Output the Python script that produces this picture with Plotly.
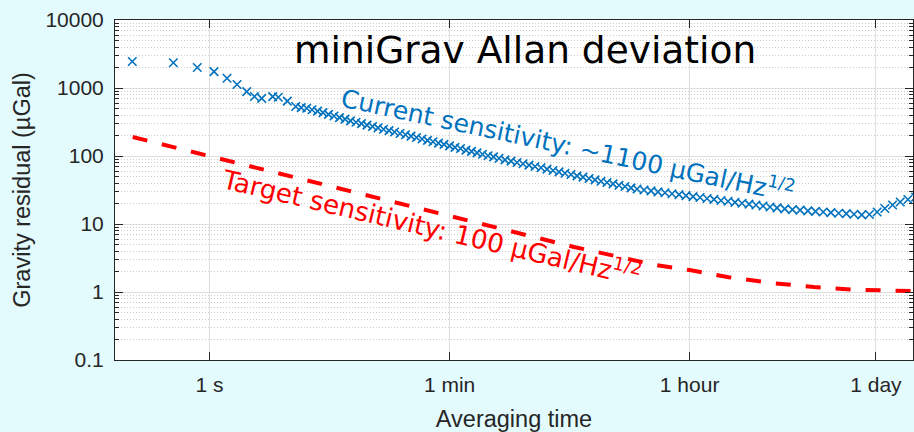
import plotly.graph_objects as go

# ---------------- data ----------------
tau_current = [0.268, 0.540, 0.812, 1.080, 1.348, 1.599, 1.887, 2.154, 2.436, 2.938,
               3.233, 3.770, 4.350, 4.778, 5.248, 5.744, 6.31, 6.93, 7.61, 8.36,
               9.18, 10.09, 11.08, 12.17, 13.36, 14.68, 16.12, 17.71, 19.45, 21.36,
               23.46, 25.77, 28.30, 31.09, 34.15, 37.51, 41.19, 45.25, 49.70, 54.58,
               59.95, 65.84, 72.33, 79.43, 87.25, 95.83, 105.2, 115.6, 127.0, 139.5,
               154.5, 171.1, 189.6, 210.0, 232.6, 257.7, 285.5, 316.2, 350.3, 388.1,
               429.9, 476.3, 527.6, 584.5, 647.5, 717.3, 794.3, 879.8, 974.7, 1080,
               1196, 1325, 1468, 1654, 1864, 2100, 2366, 2667, 3005, 3385,
               3815, 4299, 4844, 5458, 6150, 6929, 7808, 8799, 9915, 11170,
               12590, 14190, 15990, 18230, 20790, 23700, 27030, 30830, 35150, 40090,
               45710, 52120, 59430, 67780, 77300, 88150, 100500, 114700, 130700, 149100,
               170000]
sigma_current = [2450, 2350, 2000, 1740, 1390, 1126, 883, 750, 705, 745,
                 730, 640, 535, 515, 503, 478, 456, 435, 409, 387,
                 367, 348, 329, 313, 299, 285, 272, 259, 247, 236,
                 225, 214, 205, 196, 187, 178, 170, 162, 155, 148,
                 141, 134, 129, 122, 117, 111, 106, 101, 97, 92.5,
                 87.9, 84.1, 80.2, 76.8, 73.5, 70.1, 67.1, 64.0, 61.2, 58.4,
                 55.8, 53.4, 50.9, 48.8, 46.6, 44.5, 42.6, 40.7, 39.0, 37.2,
                 35.6, 34.0, 32.7, 31.6, 30.7, 29.7, 28.8, 27.8, 27.0, 26.2,
                 25.3, 24.5, 23.7, 23.0, 22.2, 21.6, 20.8, 20.2, 19.6, 19.0,
                 18.4, 17.8, 17.3, 16.7, 16.3, 16.0, 15.6, 15.3, 15.0, 14.7,
                 14.4, 14.2, 13.9, 13.6, 13.8, 15.0, 16.9, 19.0, 21.1, 22.9,
                 24.9]

tau_target = [0.27, 0.5, 1, 2, 5, 10, 20, 50, 100, 200, 500, 1000, 2000, 3600,
              7000, 15000, 30000, 60000, 100000, 170000]
sigma_target = [190, 140, 100, 70.7, 44.7, 31.6, 22.4, 14.2, 9.9, 7.2, 4.6, 3.4, 2.5, 2.1,
                1.65, 1.35, 1.18, 1.08, 1.05, 1.03]

x_tick_vals = [1, 60, 3600, 86400]
x_tick_text = ["1 s", "1 min", "1 hour", "1 day"]
y_tick_vals = [0.1, 1, 10, 100, 1000, 10000]
y_tick_text = ["0.1", "1", "10", "100", "1000", "10000"]

title_text = "miniGrav Allan deviation"
current_label = "Current sensitivity: ~1100 µGal/Hz<sup>1/2</sup>"
target_label = "Target sensitivity: 100 µGal/Hz<sup>1/2</sup>"

# ---------------- styling ----------------
BLUE = "#0072BD"
RED = "#FF0000"
AXC = "#262626"
BG = "#e4fbfd"

y_minor = [m * 10 ** k for k in range(-1, 4) for m in range(2, 10)]

fig = go.Figure()
fig.add_trace(go.Scatter(
    x=tau_target, y=sigma_target, mode="lines",
    line=dict(color=RED, width=4, dash="15px,15px"),
    showlegend=False, hoverinfo="skip"))
fig.add_trace(go.Scatter(
    x=tau_current, y=sigma_current, mode="markers",
    marker=dict(symbol="x-thin", size=8.5, color=BLUE, line=dict(color=BLUE, width=1.6)),
    showlegend=False))

tick_font = dict(family="Liberation Sans, Arial, sans-serif", size=21, color=AXC)
title_font = dict(family="Liberation Sans, Arial, sans-serif", size=23.5, color=AXC)

fig.update_xaxes(
    type="log", range=[-0.7, 5.211], automargin=False,
    tickvals=x_tick_vals, ticktext=x_tick_text,
    ticks="inside", ticklen=8, tickwidth=1, tickcolor=AXC,
    showline=True, linecolor=AXC, linewidth=1, mirror="ticks",
    showgrid=True, gridcolor="#dedede", gridwidth=1,
    zeroline=False, tickfont=tick_font, ticklabelstandoff=6,
    title=dict(text="Averaging time", font=title_font, standoff=17),
)
fig.update_yaxes(
    type="log", range=[-1, 4], automargin=False,
    tickvals=y_tick_vals, ticktext=y_tick_text,
    ticks="inside", ticklen=8, tickwidth=1, tickcolor=AXC,
    showline=True, linecolor=AXC, linewidth=1, mirror="ticks",
    showgrid=True, gridcolor="#dedede", gridwidth=1,
    zeroline=False, tickfont=tick_font, ticklabelstandoff=6,
    minor=dict(tickvals=y_minor, ticks="inside", ticklen=4, tickcolor=AXC,
               showgrid=True, gridcolor="#cccccc", griddash="1px,2px", gridwidth=1),
    title=dict(text="Gravity residual (µGal)", font=title_font, standoff=8),
)

L, R, T, B = 115, 1, 20, 72
W, H = 914, 432
pw, ph = W - L - R, H - T - B


def px(x):
    return (x - L) / pw


def py(y):
    return (H - B - y) / ph


fig.add_annotation(x=px(525), y=py(50), xref="paper", yref="paper",
                   xanchor="center", yanchor="middle",
                   text=title_text, showarrow=False,
                   font=dict(family="DejaVu Sans", size=37.5, color="black"))
fig.add_annotation(x=px(568), y=py(144), xref="paper", yref="paper",
                   xanchor="center", yanchor="middle",
                   text=current_label, showarrow=False, textangle=12,
                   font=dict(family="DejaVu Sans", size=25, color=BLUE))
fig.add_annotation(x=px(431), y=py(226), xref="paper", yref="paper",
                   xanchor="center", yanchor="middle",
                   text=target_label, showarrow=False, textangle=13.3,
                   font=dict(family="DejaVu Sans", size=26.2, color=RED))

fig.update_layout(
    width=W, height=H,
    margin=dict(l=L, r=R, t=T, b=B, pad=0),
    paper_bgcolor=BG, plot_bgcolor="white",
    showlegend=False,
)

fig.write_html(
    "out.html",
    config={"displayModeBar": False},
    post_script="document.body.style.margin='0';document.body.style.padding='0';"
                "document.body.style.background='" + BG + "';",
)
